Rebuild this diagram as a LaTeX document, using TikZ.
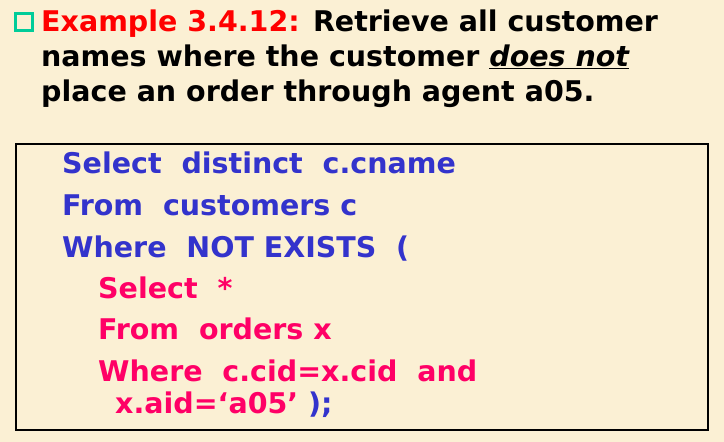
\documentclass[tikz,border=0pt]{standalone}
\usepackage{fontspec}
\setmainfont{DejaVu Sans}
\definecolor{bgc}{HTML}{FBF0D4}
\definecolor{titred}{HTML}{FF0000}
\definecolor{codeblue}{HTML}{3333CC}
\definecolor{codepink}{HTML}{FF0066}
\definecolor{boxteal}{HTML}{00CC99}
\begin{document}
\begin{tikzpicture}[x=1pt,y=-1pt,
  txt/.style={anchor=base west,inner sep=0pt,font=\fontsize{28.5}{32}\selectfont\bfseries},
  blue/.style={txt,text=codeblue},
  pink/.style={txt,text=codepink}]
\fill[bgc] (0,0) rectangle (724,442);
\useasboundingbox (0,0) rectangle (724,442);
% bullet
\node[draw=boxteal,line width=2.6pt,minimum size=17pt,inner sep=0pt] (bul) at (24,22) {};
\node[txt] (t1) at (41,31) {\textcolor{titred}{Example 3.4.12:} Retrieve all customer};
\node[txt] (t2) at (41,66) {names where the customer \underline{\itshape does not}};
\node[txt] (t3) at (41,101) {place an order through agent a05.};
% code box
\draw[line width=2.5pt] (16,144) rectangle (708,430);
\node[blue] (c1) at (62,173) {Select\ \ distinct\ \ c.cname};
\node[blue] (c2) at (62,215) {From\ \ customers c};
\node[blue] (c3) at (62,257) {Where\ \ NOT EXISTS\ \ (};
\node[pink] (c4) at (98,298) {Select\ \ *};
\node[pink] (c5) at (98,339) {From\ \ orders x};
\node[pink] (c6) at (98,381) {Where\ \ c.cid=x.cid\ \ and};
\node[pink] (c7) at (115,413) {x.aid=‘a05’ \textcolor{codeblue}{);}};
\end{tikzpicture}
\end{document}
